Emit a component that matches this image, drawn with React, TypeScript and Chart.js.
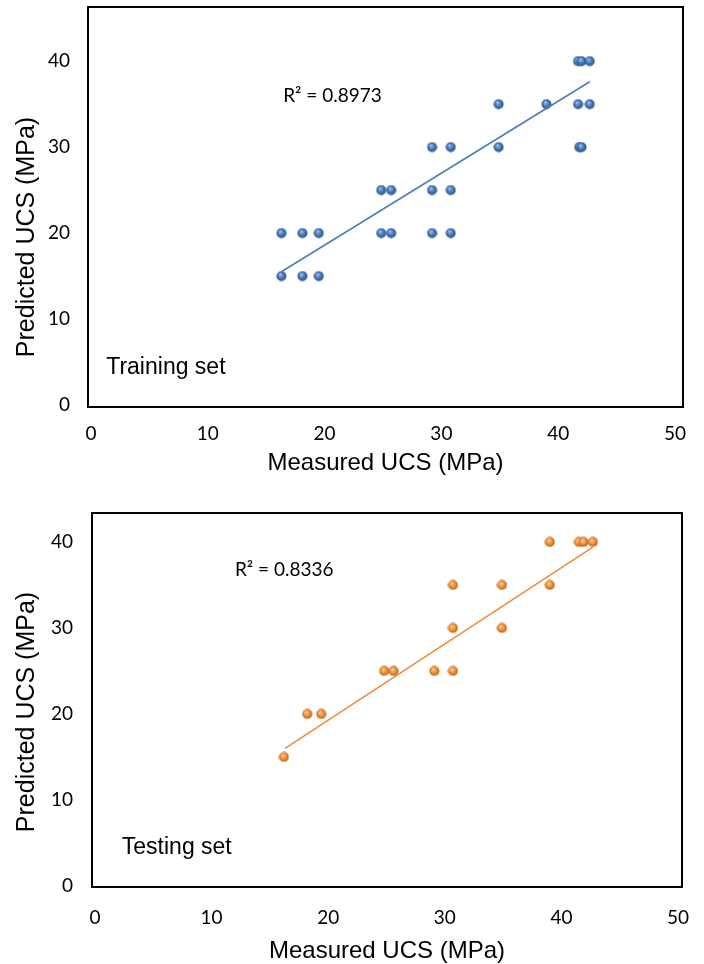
import React, { useEffect, useRef } from "react";
import { Chart, registerables } from "chart.js";

Chart.register(...registerables);

// ---------- data ----------
const xTicks = [0, 10, 20, 30, 40, 50];
const yTicks = [0, 10, 20, 30, 40];

const trainMeasured = [
  16.3, 18.1, 19.5,
  16.3, 18.1, 19.5, 24.85, 25.7, 29.2, 30.8,
  24.85, 25.7, 29.2, 30.8,
  29.2, 30.8, 34.9, 41.8, 42.0,
  34.9, 39.0, 41.7, 42.7,
  41.7, 42.0, 42.7,
];
const trainPredicted = [
  15, 15, 15,
  20, 20, 20, 20, 20, 20, 20,
  25, 25, 25, 25,
  30, 30, 30, 30, 30,
  35, 35, 35, 35,
  40, 40, 40,
];
const trainTrendX = [16.3, 42.7];
const trainTrendY = [15.5, 37.6];

const testMeasured = [16.2, 18.2, 19.4, 24.8, 25.6, 29.1, 30.7, 30.7, 34.9, 30.7, 34.9, 39.0, 39.0, 41.5, 41.9, 42.7];
const testPredicted = [15, 20, 20, 25, 25, 25, 25, 30, 30, 35, 35, 35, 40, 40, 40, 40];
const testTrendX = [16.3, 42.7];
const testTrendY = [16.0, 39.4];

const trainR2 = "R\u00B2 = 0.8973";
const testR2 = "R\u00B2 = 0.8336";
const xTitle = "Measured UCS (MPa)";
const yTitle = "Predicted UCS (MPa)";

// ---------- helpers ----------
function makeSphere(light: string, mid: string, dark: string): HTMLCanvasElement {
  const c = document.createElement("canvas");
  c.width = 11;
  c.height = 11;
  const ctx = c.getContext("2d")!;
  const g = ctx.createRadialGradient(4.3, 3.8, 0.4, 5.5, 5.5, 5.5);
  g.addColorStop(0, light);
  g.addColorStop(0.5, mid);
  g.addColorStop(1, dark);
  ctx.fillStyle = g;
  ctx.beginPath();
  ctx.arc(5.5, 5.5, 5, 0, Math.PI * 2);
  ctx.fill();
  return c;
}

const plotBox = {
  id: "plotBox",
  afterDraw(chart: any) {
    const { ctx, chartArea: a } = chart;
    ctx.save();
    ctx.strokeStyle = "#000";
    ctx.lineWidth = 2;
    ctx.strokeRect(a.left, a.top, a.right - a.left, a.bottom - a.top);
    ctx.restore();
  },
};

const notes = {
  id: "notes",
  afterDraw(chart: any, _args: any, opts: any) {
    const { ctx } = chart;
    const xs = chart.scales.x;
    const ys = chart.scales.y;
    ctx.save();
    ctx.fillStyle = "#000";
    ctx.textBaseline = "middle";
    ctx.textAlign = "left";
    for (const n of opts.items || []) {
      ctx.font = n.font;
      ctx.fillText(n.text, xs.getPixelForValue(n.x), ys.getPixelForValue(n.y));
    }
    // y axis title
    ctx.font = opts.yTitleFont;
    ctx.textAlign = "center";
    ctx.translate(opts.yTitleX, opts.yTitleY);
    ctx.rotate(-Math.PI / 2);
    ctx.fillText(opts.yTitle, 0, 0);
    ctx.restore();
  },
};

type Panel = {
  measured: number[];
  predicted: number[];
  trendX: number[];
  trendY: number[];
  color: string;
  sphere: [string, string, string];
  r2: string;
  r2At: [number, number];
  label: string;
  labelAt: [number, number];
  height: number;
  padTop: number;
  padRight: number;
  yAxisWidth: number;
  xAxisHeight: number;
  xMin: number;
  xMax: number;
  yMin: number;
  yMax: number;
  xTickPad: number;
  yTickPad: number;
  xTitlePadBottom: number;
  yTitleY: number;
};

const trainPanel: Panel = {
  measured: trainMeasured,
  predicted: trainPredicted,
  trendX: trainTrendX,
  trendY: trainTrendY,
  color: "#4A7EBB",
  sphere: ["#9DBDE6", "#4478B8", "#254F84"],
  r2: trainR2,
  r2At: [16.45, 36.0],
  label: "Training set",
  labelAt: [1.3, 4.3],
  height: 480,
  padTop: 7,
  padRight: 21,
  yAxisWidth: 88,
  xAxisHeight: 73,
  xMin: -0.26,
  xMax: 50.69,
  yMin: -0.23,
  yMax: 46.3,
  xTickPad: 15,
  yTickPad: 18,
  xTitlePadBottom: 2,
  yTitleY: 237,
};

const testPanel: Panel = {
  measured: testMeasured,
  predicted: testPredicted,
  trendX: testTrendX,
  trendY: testTrendY,
  color: "#F08A3C",
  sphere: ["#FBCB96", "#EE9035", "#AE5A16"],
  r2: testR2,
  r2At: [12.0, 36.7],
  label: "Testing set",
  labelAt: [2.3, 4.4],
  height: 484,
  padTop: 33,
  padRight: 22,
  yAxisWidth: 92,
  xAxisHeight: 77,
  xMin: -0.257,
  xMax: 50.34,
  yMin: -0.12,
  yMax: 43.37,
  xTickPad: 19,
  yTickPad: 19,
  xTitlePadBottom: -2,
  yTitleY: 232,
};

function buildConfig(p: Panel): any {
  const pts = p.measured.map((x, i) => ({ x, y: p.predicted[i] }));
  const trend = p.trendX.map((x, i) => ({ x, y: p.trendY[i] }));
  const tickFont = { family: "Lato, 'Open Sans', sans-serif", size: 19 };
  const sphere = makeSphere(p.sphere[0], p.sphere[1], p.sphere[2]);
  return {
    type: "scatter",
    data: {
      datasets: [
        {
          data: trend,
          showLine: true,
          borderColor: p.color,
          borderWidth: 1.6,
          pointRadius: 0,
          fill: false,
          order: 0,
        },
        {
          data: pts,
          pointStyle: sphere,
          pointRadius: 5,
          backgroundColor: p.color,
          borderColor: p.color,
          order: 1,
        },
      ],
    },
    options: {
      animation: false,
      responsive: false,
      events: [],
      layout: { padding: { top: p.padTop, right: p.padRight, left: 0, bottom: 0 } },
      plugins: {
        legend: { display: false },
        tooltip: { enabled: false },
        notes: {
          items: [
            { text: p.r2, x: p.r2At[0], y: p.r2At[1], font: "19px Lato, 'Open Sans', sans-serif" },
            { text: p.label, x: p.labelAt[0], y: p.labelAt[1], font: "23px 'Liberation Sans', Arial, sans-serif" },
          ],
          yTitle,
          yTitleFont: "25px 'Liberation Sans', Arial, sans-serif",
          yTitleX: 27,
          yTitleY: p.yTitleY,
        },
      },
      scales: {
        x: {
          type: "linear",
          min: p.xMin,
          max: p.xMax,
          afterBuildTicks: (s: any) => {
            s.ticks = xTicks.map((v) => ({ value: v }));
          },
          afterFit: (s: any) => {
            s.height = p.xAxisHeight;
            s.paddingLeft = 0;
            s.paddingRight = 0;
            s.paddingTop = 0;
            s.paddingBottom = 0;
          },
          grid: { display: false, drawTicks: false },
          border: { display: false },
          ticks: { font: tickFont, color: "#000", padding: p.xTickPad, maxRotation: 0, autoSkip: false },
          title: {
            display: true,
            text: xTitle,
            color: "#000",
            font: { family: "'Liberation Sans', Arial, sans-serif", size: 24 },
            padding: { top: 0, bottom: p.xTitlePadBottom },
          },
        },
        y: {
          type: "linear",
          min: p.yMin,
          max: p.yMax,
          afterBuildTicks: (s: any) => {
            s.ticks = yTicks.map((v) => ({ value: v }));
          },
          afterFit: (s: any) => {
            s.width = p.yAxisWidth;
            s.paddingLeft = 0;
            s.paddingRight = 0;
            s.paddingTop = 0;
            s.paddingBottom = 0;
          },
          grid: { display: false, drawTicks: false },
          border: { display: false },
          ticks: { font: tickFont, color: "#000", padding: p.yTickPad, autoSkip: false },
        },
      },
    },
    plugins: [plotBox, notes],
  };
}

function ChartPanel({ panel, top }: { panel: Panel; top: number }) {
  const ref = useRef<HTMLCanvasElement>(null);
  useEffect(() => {
    const chart = new Chart(ref.current!, buildConfig(panel));
    return () => chart.destroy();
  }, [panel]);
  return (
    <canvas
      ref={ref}
      width={704}
      height={panel.height}
      style={{ position: "absolute", left: 0, top, width: 704, height: panel.height }}
    />
  );
}

export default function App() {
  return (
    <div
      style={{
        position: "absolute",
        left: 0,
        top: 0,
        width: 704,
        height: 964,
        overflow: "hidden",
        background: "#fff",
      }}
    >
      <ChartPanel panel={trainPanel} top={0} />
      <ChartPanel panel={testPanel} top={480} />
    </div>
  );
}
